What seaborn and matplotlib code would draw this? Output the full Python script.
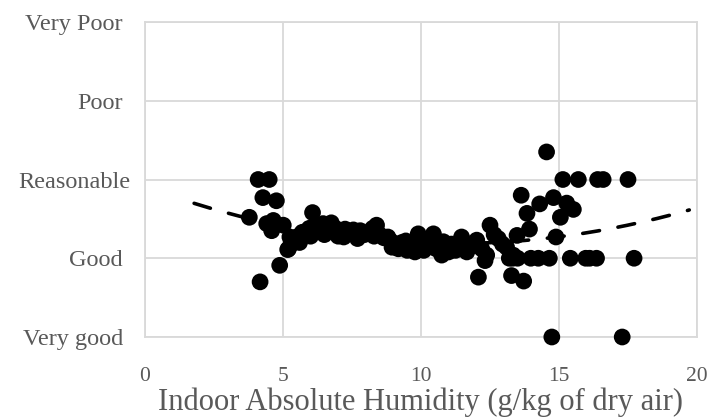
import numpy as np
import pandas as pd
import matplotlib
matplotlib.use("Agg")
import matplotlib.pyplot as plt
import matplotlib.transforms as mtransforms
import seaborn as sns

# ---- data ----
x_left = [3.78, 4.10, 4.50, 4.27, 4.76, 4.41, 4.65, 5.01, 4.59, 5.25, 5.17, 4.88, 4.17]
y_left = [2.52, 3.00, 3.00, 2.77, 2.73, 2.44, 2.48, 2.42, 2.35, 2.27, 2.11, 1.91, 1.70]

x_mid = [5.20, 5.30, 5.45, 5.55, 5.70, 5.85, 5.95, 6.07, 6.20, 6.35, 6.45, 6.55, 6.65, 6.75,
         6.90, 7.00, 7.10, 7.25, 7.40, 7.55, 7.65, 7.80, 7.95, 8.10, 8.25, 8.39, 8.50, 8.65,
         8.80, 8.90, 9.05, 9.18, 9.30, 9.45, 9.60, 9.78, 9.90, 10.00, 10.15, 10.30, 10.45,
         10.60, 10.75, 10.81, 10.95, 11.10, 11.25, 11.35, 11.47, 11.60, 11.66, 11.80, 12.02,
         12.20, 12.32, 12.38, 12.50, 12.65, 12.80, 12.95, 13.10, 13.34, 13.20, 13.50,
         5.60, 6.00, 6.50, 7.20, 7.70, 8.30, 8.95, 9.50, 10.10, 10.55, 11.00, 11.55]
y_mid = [2.12, 2.18, 2.22, 2.28, 2.33, 2.30, 2.38, 2.58, 2.42, 2.35, 2.44, 2.33, 2.40, 2.45,
         2.38, 2.28, 2.35, 2.37, 2.33, 2.36, 2.31, 2.35, 2.30, 2.33, 2.38, 2.42, 2.30, 2.26,
         2.27, 2.22, 2.18, 2.12, 2.20, 2.22, 2.16, 2.08, 2.31, 2.20, 2.15, 2.22, 2.31,
         2.17, 2.04, 2.21, 2.12, 2.18, 2.10, 2.15, 2.27, 2.12, 2.08, 2.16, 2.23,
         2.12, 1.97, 2.04, 2.42, 2.30, 2.25, 2.18, 2.14, 2.04, 2.00, 2.00,
         2.20, 2.28, 2.30, 2.27, 2.25, 2.28, 2.14, 2.10, 2.10, 2.12, 2.08, 2.20]

x_right = [12.08, 13.28, 13.72, 13.63, 13.84, 13.93, 13.48, 14.30, 14.55, 14.80, 15.28, 15.52,
           15.05, 14.89,
           13.32, 13.98, 14.25, 14.65, 15.41, 15.97, 16.11, 16.36, 17.72,
           15.14, 15.70, 16.40, 16.60, 17.50,
           14.74, 17.29]
y_right = [1.76, 1.78, 1.71, 2.80, 2.57, 2.37, 2.29, 2.69, 3.35, 2.77, 2.70, 2.62,
           2.52, 2.27,
           2.00, 2.00, 2.00, 2.00, 2.00, 2.00, 2.00, 2.00, 2.00,
           3.00, 3.00, 3.00, 3.00, 3.00,
           1.00, 1.00]

y_levels = [1, 2, 3, 4, 5]
y_labels = ["Very good", "Good", "Reasonable", "Poor", "Very Poor"]
x_ticks = [0, 5, 10, 15, 20]
x_label = "Indoor Absolute Humidity (g/kg of dry air)"

df = pd.DataFrame({"humidity": x_left + x_mid + x_right,
                   "rating": y_left + y_mid + y_right})

# ---- figure ----
sns.set_theme(style="white")
plt.rcParams["font.family"] = ["Liberation Serif", "DejaVu Serif"]

fig = plt.figure(figsize=(7.11, 4.18), dpi=100)
ax = fig.add_axes([145 / 711, 1 - 337 / 418, 552 / 711, 315 / 418])

ax.set_xlim(0, 20)
ax.set_ylim(1, 5)
ax.set_xticks(x_ticks)
ax.set_yticks(y_levels)
ax.set_yticklabels(y_labels)
ax.grid(True, color="#d9d9d9", linewidth=1.3)
ax.set_axisbelow(True)
for s in ax.spines.values():
    s.set_color("#d9d9d9")
    s.set_linewidth(1.3)

# polynomial (order 2) trend line, with 2-unit forecast at both ends
coef = np.polyfit(df["humidity"], df["rating"], 2)
xt = np.linspace(df["humidity"].min() - 2, df["humidity"].max() + 2, 200)
trend = pd.DataFrame({"humidity": xt, "rating": np.polyval(coef, xt)})

sns.scatterplot(data=df, x="humidity", y="rating", ax=ax, color="black",
                s=145, edgecolor="none", linewidth=0, clip_on=False, zorder=3)
sns.lineplot(data=trend, x="humidity", y="rating", ax=ax, color="black",
             linewidth=2.6, zorder=4, dashes=False)
ln = ax.lines[-1]
ln.set_dashes((4.7, 5.2))
ln.set_dash_capstyle("round")

ax.tick_params(axis="both", length=0, labelcolor="#595959")
ax.tick_params(axis="x", pad=21.5, labelsize=15.5)
ax.tick_params(axis="y", pad=16, labelsize=17.5)
ax.set_xlabel(x_label, fontsize=22, color="#595959", labelpad=1)
ax.set_ylabel("")

# the long "Reasonable" label sits a little further right in the reference
for lab in ax.get_yticklabels():
    if lab.get_text() == "Reasonable":
        lab.set_transform(lab.get_transform() +
                          mtransforms.ScaledTranslation(8 / 100, 0, fig.dpi_scale_trans))

fig.savefig("out.png", dpi=100)
